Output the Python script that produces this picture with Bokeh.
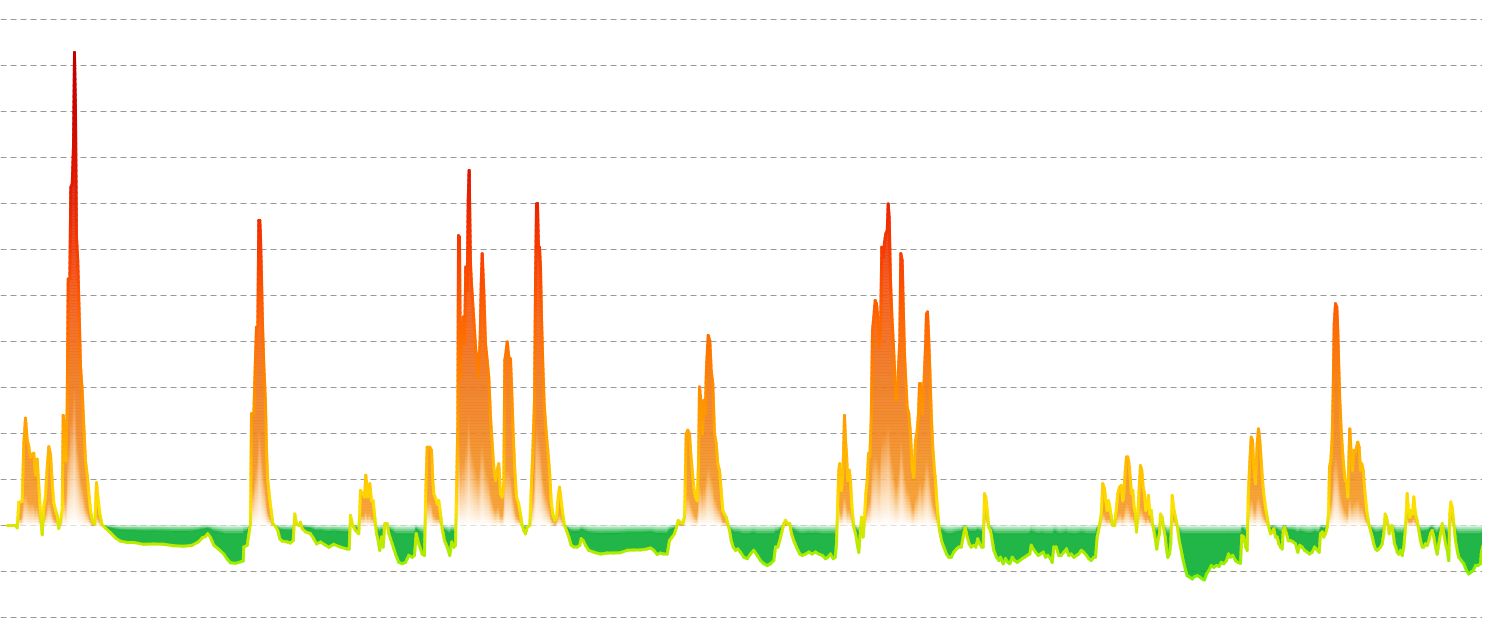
import numpy as np
from bokeh.plotting import figure
from bokeh.models import Range1d, FixedTicker
from bokeh.embed import file_html
from bokeh.resources import INLINE

# ---------------- data: (time index, value in grid units) ----------------
part_a = [(7, 0), (15, 0), (16.7, -0.05), (18.3, 0.50), (21.7, 0.53), (23.3, 1.78), (25, 2.33), (26.7, 1.86),
          (28.3, 1.71), (30, 1.48), (31.7, 1.55), (33.3, 1.57), (35, 1.10), (36.7, 1.44), (38.3, 0.87), (40, 0.26),
          (41.7, -0.20), (43.3, 0.41), (45, 0.64), (46.7, 1.25), (48.3, 1.71), (50, 1.55), (51.7, 0.94), (53.3, 0.49),
          (55, 0.34), (56.7, 0.22), (58.3, -0.06), (60, 0.11), (61.7, 0.34), (62.7, 2.39), (64, 2.16), (65.3, 1.40),
          (66.7, 2.62), (67.7, 5.36), (69.3, 5.36), (70.3, 7.35), (71.7, 7.42), (73, 8.26), (74, 10.28), (75, 9.02),
          (76, 6.28), (77.3, 5.75), (78.7, 4.60), (80, 3.46), (81.7, 2.93), (83.3, 2.16), (85, 1.40), (86.7, 1.10),
          (88.3, 0.72), (90, 0.34), (91.7, 0.11), (94.3, 0.03), (96, 0.93), (97.3, 0.64), (99.3, 0.26), (101.7, 0.01),
          (105, -0.06), (110, -0.16), (115, -0.27), (120, -0.34), (126.7, -0.37), (133.3, -0.37), (143.3, -0.41),
          (153.3, -0.40), (163.3, -0.41), (173.3, -0.44), (183.3, -0.45), (191.7, -0.43), (198.3, -0.35),
          (201.7, -0.27), (205, -0.24), (207.3, -0.18), (210, -0.26), (213.3, -0.43), (218.3, -0.52), (223.3, -0.62),
          (226.7, -0.73), (230, -0.81), (235, -0.82), (240, -0.79), (242.7, -0.77)]

part_b = [(243.3, -0.47), (246.7, -0.43), (250, 0.04), (251, 2.43), (253.3, 2.43), (255, 3.66), (256, 4.31),
          (257.3, 4.31), (258.3, 6.63), (259.3, 6.63), (260, 6.30), (261, 5.40), (262, 4.38), (263.3, 3.50),
          (265, 2.65), (266, 1.63), (267.3, 0.98), (269, 0.62), (270.7, 0.33), (272.3, 0.04), (275, -0.02),
          (277.3, -0.11), (279.3, -0.29), (281.7, -0.34), (286.7, -0.36), (290, -0.38), (292.7, -0.33),
          (294.3, 0.25), (296, 0.04), (298.3, 0.0), (300, 0.07), (301.7, -0.07), (305, -0.14), (310, -0.18),
          (313.3, -0.29), (316, -0.40), (320, -0.36), (325, -0.43), (328.3, -0.47), (333.3, -0.41), (340, -0.47),
          (346.7, -0.51), (348.7, -0.51), (350, 0.22), (352.3, 0.0), (355, -0.11), (358.3, -0.18), (360, 0.76),
          (362.3, 0.69), (364, 0.62), (365.3, 1.09), (367.3, 0.62), (369.3, 0.91), (371, 0.54), (372.7, 0.54),
          (374, 0.25), (376, -0.18), (377.7, -0.33), (379.3, -0.54), (381, -0.25), (382.7, -0.47), (384.3, 0.04),
          (386.7, 0.04), (388.3, -0.18), (391.7, -0.40), (395, -0.62), (398.3, -0.80), (401.7, -0.83), (405, -0.80),
          (408.3, -0.65), (411.7, -0.69), (414, -0.65), (415.7, -0.18), (418.3, -0.40), (421.7, -0.62), (424, -0.65),
          (425.3, 0.76), (426.7, 1.70), (429.3, 1.70), (431, 1.63), (432.3, 0.98), (433.3, 0.69), (435.3, 0.58),
          (436.7, 0.47), (438.3, 0.54), (440, 0.25), (441.7, -0.07), (444, -0.33), (446.7, -0.47), (449.3, -0.65),
          (451.3, -0.36), (453.3, -0.47), (455, -0.43), (456, 0.69), (457.3, 2.21), (458, 6.30), (459, 6.27),
          (460, 3.22), (461, 4.09), (462.7, 4.53), (464, 3.95), (465.3, 5.62), (466.7, 5.11), (467.7, 7.07),
          (468.7, 7.72), (470, 5.69), (471, 5.25), (472.3, 4.82), (474, 4.24), (475.3, 3.80), (476.7, 3.66),
          (478, 3.22), (479.7, 4.09), (480.7, 5.25), (481.7, 5.91), (483.3, 5.10), (485, 3.95), (486.7, 3.59),
          (488.3, 3.22), (490, 2.36)]

part_c = [(491.7, 1.78), (493.3, 1.27), (495, 0.98), (496.7, 1.20), (498.3, 1.34), (500, 0.69), (501.7, 0.62),
          (503.3, 0.91), (504.3, 3.59), (505.7, 3.80), (506.7, 3.99), (508.3, 3.66), (510, 3.62), (511, 3.08),
          (512.7, 1.99), (514.3, 1.20), (516, 0.62), (518.3, 0.47), (520, 0.25), (521.7, 0.0), (523.3, -0.11),
          (525, -0.18), (526.7, -0.04), (529.3, 0.0), (530.7, 0.76), (532.3, 1.63), (534, 2.72), (535, 5.25),
          (536, 6.99), (537, 7.00), (538, 6.05), (539, 6.05), (540, 5.62), (541, 4.53), (542.3, 3.51), (543.7, 2.64),
          (545.3, 2.14), (547.3, 1.63), (549, 1.20), (550.7, 0.54), (552.3, 0.25), (554.3, 0.11), (556, 0.18),
          (557.7, 0.62), (559, 0.83), (560.7, 0.54), (562.3, 0.25), (564, 0.0), (566, -0.11), (568.3, -0.25),
          (570.7, -0.43), (573.3, -0.47), (576.7, -0.47), (579.3, -0.43), (580.7, -0.29), (582.7, -0.33),
          (585, -0.43), (588.3, -0.54), (593.3, -0.58), (600, -0.62), (606.7, -0.60), (613.3, -0.60), (620, -0.59),
          (626.7, -0.54), (633.3, -0.53), (640, -0.53), (646.7, -0.51), (650, -0.49), (653.3, -0.54),
          (656.7, -0.63), (660, -0.60), (663.3, -0.62), (666.7, -0.62), (669, -0.33), (671.7, -0.25), (674, -0.18),
          (676, -0.04), (677.7, 0.11), (680, 0.07), (682.3, 0.04), (684, 0.18), (685.7, 1.99), (687.3, 2.07),
          (689, 1.99), (690, 1.63), (691.7, 1.20), (693.3, 0.83), (695, 0.62), (696.7, 0.54), (698, 1.34),
          (699, 3.01), (700.7, 2.64), (702, 1.99), (703.3, 2.72), (704.7, 2.43), (706, 3.44), (707.7, 4.13),
          (709.3, 4.02), (710.7, 3.37), (712.3, 3.08), (714, 1.99), (715.7, 1.78), (717.3, 1.34), (719, 1.20),
          (720.7, 0.76), (722.3, 0.33), (724, 0.25), (725.7, 0.18), (727.3, 0.04), (729, -0.11), (730.7, -0.33),
          (732.7, -0.47), (735, -0.54), (737.3, -0.51)]

part_d = [(740, -0.58), (743.3, -0.69), (746.7, -0.72), (750, -0.62), (753.3, -0.54), (756.7, -0.65), (760, -0.76),
          (763.3, -0.83), (766.7, -0.87), (770, -0.83), (773.3, -0.76), (775, -0.47), (777.3, -0.47), (779.3, -0.33),
          (781.7, -0.11), (783.3, 0.04), (785, 0.11), (787.3, 0.04), (789.3, 0.04), (791, -0.18), (793.3, -0.33),
          (796, -0.47), (799.3, -0.62), (801.7, -0.65), (805, -0.62), (808.3, -0.58), (811.7, -0.62), (815, -0.58),
          (818.3, -0.62), (821.7, -0.65), (825, -0.72), (827.3, -0.69), (830, -0.62), (832.7, -0.72),
          (834.7, -0.69), (836, -0.40), (837.3, 0.54), (838.3, 1.20), (839.3, 1.34), (840.7, 0.76), (842, 0.98),
          (843, 1.56), (844, 2.39), (845, 1.85), (846, 1.56), (847.3, 0.98), (848.7, 1.20), (850, 0.98),
          (851.7, 0.33), (853.3, -0.04), (855, -0.18), (856.7, -0.40), (858.3, -0.58), (860, -0.11), (861, 0.18),
          (862.7, -0.25), (864, 0.18), (865.3, 0.69), (866.7, 0.98), (868, 1.56), (869.3, 1.49), (870.7, 2.28),
          (872, 4.24), (873.3, 4.53), (874.7, 4.89), (876, 4.82), (877.3, 4.53), (878.7, 3.88), (880, 4.17),
          (881.3, 6.05), (882.7, 5.83), (884, 6.16), (885.3, 6.34), (886.7, 6.41), (887.7, 6.99), (888.7, 6.70),
          (890, 5.33), (891.3, 4.60), (892.7, 4.02), (894, 3.44), (895.3, 2.72), (896.7, 2.79), (898, 3.44),
          (899.3, 4.02), (900.3, 5.91), (901.7, 5.76), (902.7, 4.82), (904, 3.73), (905.3, 3.15), (906.7, 2.57),
          (908.3, 2.43), (910, 1.99), (911.7, 1.27), (913.3, 1.05), (915, 1.85), (916.7, 2.07), (918, 2.43),
          (919, 3.08), (920.3, 3.08), (921.7, 2.43), (923.3, 3.01), (925, 3.88), (926, 4.60), (927, 4.64),
          (928.3, 4.02), (929.7, 3.15), (931, 2.28), (932.3, 1.70), (933.7, 1.27), (935, 0.98), (936.3, 0.54),
          (937.7, 0.18), (939, -0.11), (941, -0.33), (943.3, -0.47), (946, -0.62), (948.3, -0.69), (950.7, -0.69),
          (953.3, -0.58), (956, -0.51), (958.3, -0.47), (960.7, -0.47), (962.7, -0.25), (964.7, -0.04),
          (966.7, -0.25), (968.7, -0.40), (970.7, -0.47), (973.3, -0.43), (975.3, -0.47), (977.3, -0.29),
          (979.3, -0.40), (981.3, -0.47), (982.7, -0.47), (984, 0.69), (985.3, 0.62), (986.7, 0.33), (988.3, -0.04)]

part_e = [(990, -0.11), (991.7, -0.33), (993.3, -0.54), (996, -0.69), (998.3, -0.76), (1000, -0.69),
          (1002.7, -0.83), (1005, -0.72), (1007.3, -0.80), (1009.3, -0.83), (1011.7, -0.69), (1014, -0.76),
          (1016.7, -0.80), (1019.3, -0.76), (1021.7, -0.72), (1024, -0.69), (1026.7, -0.65), (1029.3, -0.62),
          (1030.7, -0.43), (1032.7, -0.51), (1035, -0.58), (1037.7, -0.65), (1040, -0.62), (1042.7, -0.58),
          (1045, -0.69), (1047.3, -0.65), (1050, -0.72), (1051.7, -0.80), (1053.3, -0.47), (1055.7, -0.47),
          (1058.3, -0.65), (1060.7, -0.65), (1063.3, -0.58), (1066, -0.51), (1068.3, -0.65), (1070.7, -0.62),
          (1073.3, -0.69), (1076, -0.65), (1078.3, -0.62), (1080.7, -0.54), (1083.3, -0.58), (1086, -0.65),
          (1088.3, -0.72), (1090.7, -0.76), (1093.3, -0.69), (1095, -0.69), (1096.7, -0.25), (1098.7, -0.04),
          (1100.7, 0.25), (1102.3, 0.91), (1104, 0.80), (1105.3, 0.54), (1106.7, 0.33), (1108, 0.54),
          (1109.3, 0.40), (1110.7, 0.22), (1112.3, 0.0), (1114, 0.0), (1115.3, 0.25), (1117.3, 0.69), (1119, 0.83),
          (1120.7, 0.87), (1122.3, 0.54), (1123.3, 0.69), (1124.3, 1.05), (1126, 1.49), (1127.3, 1.49),
          (1128.3, 1.38), (1129.7, 1.05), (1131, 0.69), (1132.3, 0.76), (1133.7, 0.40), (1135, 0.25),
          (1136, -0.14), (1137.3, 0.25), (1138.7, 0.83), (1140, 1.30), (1141.3, 1.20), (1142.7, 0.83),
          (1144, 0.69), (1145.3, 0.33), (1146.7, 0.47), (1148, 0.65), (1149.3, 0.25), (1150.7, 0.33), (1152, 0.04),
          (1153.3, -0.11), (1155, -0.33), (1156.3, -0.51), (1157.7, -0.29), (1159, -0.18), (1160, 0.25),
          (1161.7, 0.18), (1163, -0.04), (1164.7, -0.25), (1166, -0.51), (1167.3, -0.69), (1169, -0.62),
          (1170.3, -0.40), (1171.7, 0.65), (1173, 0.40), (1174.3, 0.25), (1175.7, 0.11), (1177, -0.04),
          (1178.7, -0.33), (1180.7, -0.54), (1182.7, -0.76), (1184.7, -0.94), (1186.7, -1.09), (1189, -1.12),
          (1191.7, -1.16), (1194, -1.11), (1196.7, -1.09), (1199.3, -1.12), (1201.7, -1.16), (1204, -1.18),
          (1206, -1.05), (1208.3, -0.98), (1210.7, -0.87), (1213.3, -0.91), (1216, -0.87), (1218.7, -0.89),
          (1220.7, -0.80), (1223.3, -0.83), (1226, -0.76), (1228, -0.62), (1230, -0.69), (1232.3, -0.65),
          (1235, -0.76), (1237.3, -0.80), (1240, -0.82), (1241.3, -0.22), (1243.3, -0.25), (1245.3, -0.47),
          (1246.7, -0.54), (1247.7, 0.62)]

part_f = [(1249.3, 1.38), (1250.7, 1.92), (1252, 1.85), (1253.3, 1.27), (1255, 0.91), (1256.7, 1.78), (1258, 2.10),
          (1259.3, 1.85), (1260.7, 1.41), (1262, 0.98), (1263.3, 0.69), (1265, 0.40), (1266.7, 0.18),
          (1268.3, -0.04), (1270, -0.18), (1271.7, -0.14), (1273.3, -0.07), (1275, -0.25), (1276.7, -0.25),
          (1278.3, -0.40), (1280, -0.47), (1281.7, -0.51), (1282.7, -0.11), (1284, -0.04), (1286, -0.18),
          (1287.7, -0.33), (1290, -0.33), (1292.7, -0.36), (1295, -0.40), (1297.3, -0.58), (1299.3, -0.43),
          (1301.7, -0.47), (1304, -0.54), (1306.7, -0.58), (1309, -0.62), (1311.7, -0.58), (1314, -0.47),
          (1316.7, -0.53), (1318.7, -0.58), (1320, -0.18), (1321.7, -0.14), (1323.3, -0.25), (1325, -0.18),
          (1326.7, -0.04), (1328, 0.25), (1329, 1.27), (1330.3, 1.41), (1331.7, 1.92), (1332.7, 2.93),
          (1333.7, 4.38), (1335, 4.82), (1336.3, 4.75), (1337.3, 4.24), (1338.3, 3.44), (1339.3, 2.72),
          (1340.7, 2.07), (1342, 1.63), (1343.3, 1.27), (1344.7, 0.98), (1346, 0.98), (1347.3, 0.62),
          (1348.7, 1.70), (1349.3, 2.10), (1350.7, 1.56), (1352, 1.20), (1353.3, 1.63), (1354.7, 1.59),
          (1356, 1.70), (1357.3, 1.81), (1358.7, 1.70), (1360, 1.20), (1361.3, 1.34), (1362.7, 1.20), (1364, 0.83),
          (1365.3, 0.54), (1366.7, 0.25), (1368.3, 0.04), (1370, -0.11), (1371.7, -0.25), (1373.3, -0.40),
          (1375, -0.51), (1376.7, -0.54), (1378.3, -0.51), (1380, -0.47), (1381.7, -0.40), (1383.3, -0.18),
          (1384.7, 0.25), (1386, 0.18), (1387.3, 0.04), (1388.7, -0.18), (1390, -0.04), (1391.3, 0.0),
          (1392.7, -0.18), (1394, -0.40), (1395.3, -0.47), (1396.7, -0.58), (1398.3, -0.62), (1400, -0.54),
          (1401.7, -0.65), (1403.3, -0.47), (1405, -0.04), (1406.7, 0.69), (1408, 0.33), (1409.3, 0.18),
          (1410.7, 0.33), (1412, 0.25), (1413.3, 0.62), (1415, 0.25), (1416.7, 0.11), (1418.3, -0.11),
          (1420, -0.33), (1421.7, -0.47), (1423.3, -0.47), (1425, -0.40), (1426.7, -0.43), (1428.3, -0.33),
          (1430, -0.18), (1431.7, -0.11), (1433.3, -0.25), (1435, -0.47), (1436.7, -0.62), (1438.3, -0.40),
          (1440, -0.18), (1441.7, 0.04), (1443.3, -0.18), (1445, -0.40), (1446.7, -0.54), (1448.3, -0.76),
          (1449.3, 0.25), (1450.3, 0.51), (1451.7, 0.40), (1453.3, 0.04), (1455, -0.33), (1456.7, -0.54),
          (1458.3, -0.69), (1460.7, -0.76), (1463.3, -0.83), (1466, -0.98), (1468.3, -1.05), (1470.7, -1.01),
          (1472.7, -0.98), (1475, -0.87), (1477.3, -0.87), (1480, -0.83), (1480.7, -0.62), (1482, -0.47),
          (1483.3, -0.40)]

grid_values = list(range(-2, 12))

# ---------------- styling ----------------
LINE_STOPS = [(-1.2, (120, 240, 0)), (-0.6, (172, 236, 0)), (0.0, (218, 230, 0)), (0.4, (255, 224, 0)),
              (1.0, (255, 198, 0)), (2.0, (255, 165, 0)), (3.0, (255, 138, 0)), (4.5, (255, 100, 0)),
              (6.0, (248, 60, 0)), (7.5, (225, 25, 0)), (9.0, (205, 5, 0)), (10.5, (190, 0, 0))]
FILL_STOPS = [(0.0, (245, 155, 35)), (1.0, (243, 145, 30)), (2.0, (240, 130, 26)), (3.0, (238, 118, 22)),
              (4.0, (240, 102, 16)), (5.0, (243, 82, 10)), (6.0, (235, 56, 6)), (7.0, (220, 32, 4)),
              (8.5, (204, 12, 2)), (10.5, (190, 0, 0))]
NEG_RGB = (4, 172, 46)


def rgb_at(stops, val):
    xs = [s[0] for s in stops]
    return [float(np.interp(val, xs, [s[1][c] for s in stops])) for c in range(3)]


def to_hex(rgb, a=1.0):
    out = [int(round(a * c + (1.0 - a) * 255.0)) for c in rgb]
    return "#%02x%02x%02x" % tuple(out)


pts = part_a + part_b + part_c + part_d + part_e + part_f
t = np.array([q[0] for q in pts], dtype=float)
v = np.array([q[1] for q in pts], dtype=float)

PX = 46.0          # pixels per grid unit
W, H = 1482, 625
y_top = 525.0 / PX
y_bot = y_top - H / PX

p = figure(width=W, height=H, output_backend="svg", toolbar_location=None,
           x_range=Range1d(0, W), y_range=Range1d(y_bot, y_top),
           x_axis_location=None, y_axis_location=None, min_border=0)
p.outline_line_color = None
p.background_fill_color = "white"
p.border_fill_color = "white"
p.xgrid.visible = False
p.ygrid[0].ticker = FixedTicker(ticks=grid_values)
p.ygrid.grid_line_color = "#999999"
p.ygrid.grid_line_dash = "6 4"
p.ygrid.grid_line_width = 1

# ---------------- gradient fill (thin vertical strips, colours pre-blended on white) ----------------
L, R, B, T, C = [], [], [], [], []
for xl in range(int(np.ceil(t[0])), int(np.floor(t[-1]))):
    val = float(np.interp(xl + 0.5, t, v))
    hp = abs(val) * PX
    if hp < 0.6:
        continue
    if val > 0:
        edges = list(np.arange(0.0, hp, 3.0)) + [hp]
        for e0, e1 in zip(edges[:-1], edges[1:]):
            if e1 - e0 < 0.05:
                continue
            mid = 0.5 * (e0 + e1)
            a = min(1.0, (mid / hp) / 0.32)
            L.append(xl); R.append(xl + 1); B.append(e0 / PX); T.append(e1 / PX)
            C.append(to_hex(rgb_at(FILL_STOPS, mid / PX), a))
    else:
        fade = min(0.3 * hp, 9.0)
        edges = list(np.arange(0.0, fade, 2.0)) + [fade]
        for e0, e1 in zip(edges[:-1], edges[1:]):
            if e1 - e0 < 0.05:
                continue
            mid = 0.5 * (e0 + e1)
            a = min(1.0, mid / fade) ** 0.8
            L.append(xl); R.append(xl + 1); B.append(-e0 / PX); T.append(-e1 / PX)
            C.append(to_hex(NEG_RGB, a))
        L.append(xl); R.append(xl + 1); B.append(-fade / PX); T.append(-hp / PX)
        C.append(to_hex(NEG_RGB, 1.0))

p.quad(left=L, right=R, bottom=B, top=T, fill_color=C, fill_alpha=1.0,
       line_color=C, line_width=0.3)

# ---------------- value-coloured line ----------------
X0, Y0, X1, Y1, LC = [], [], [], [], []
for i in range(len(t) - 1):
    n = max(1, int(np.ceil(abs(v[i + 1] - v[i]) / 0.12)))
    for k in range(n):
        a0, a1 = k / n, (k + 1) / n
        xa = t[i] + (t[i + 1] - t[i]) * a0
        xb = t[i] + (t[i + 1] - t[i]) * a1
        ya = v[i] + (v[i + 1] - v[i]) * a0
        yb = v[i] + (v[i + 1] - v[i]) * a1
        X0.append(xa); Y0.append(ya); X1.append(xb); Y1.append(yb)
        LC.append(to_hex(rgb_at(LINE_STOPS, 0.5 * (ya + yb))))

p.segment(x0=X0, y0=Y0, x1=X1, y1=Y1, line_color=LC, line_width=3, line_cap="round")

open("out.html", "w").write(file_html(p, INLINE))
